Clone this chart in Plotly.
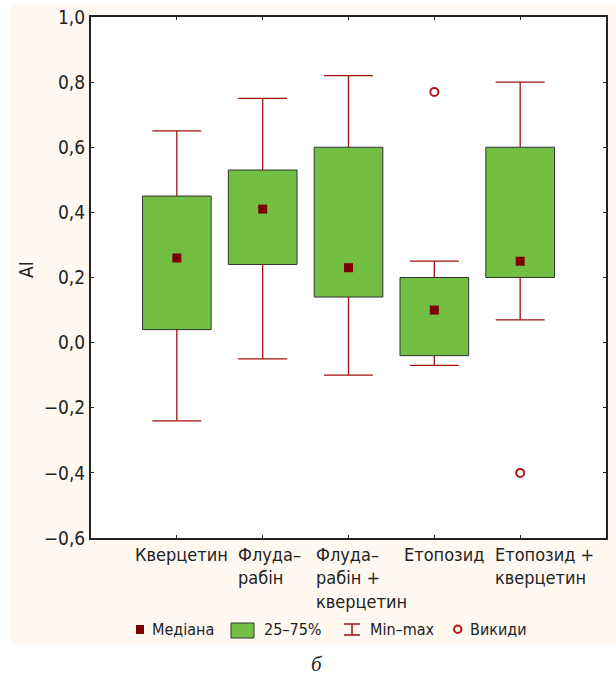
import plotly.graph_objects as go

# %%
categories = ["Кверцетин", "Флуда–<br>рабін", "Флуда–<br>рабін +<br>кверцетин",
              "Етопозид", "Етопозид +<br>кверцетин"]
q1 = [0.04, 0.24, 0.14, -0.04, 0.20]
q3 = [0.45, 0.53, 0.60, 0.20, 0.60]
median = [0.26, 0.41, 0.23, 0.10, 0.25]
vmin = [-0.24, -0.05, -0.10, -0.07, 0.07]
vmax = [0.65, 0.75, 0.82, 0.25, 0.80]
outlier_x = [4, 5]
outlier_y = [0.77, -0.40]
ytick_vals = [-0.6, -0.4, -0.2, 0.0, 0.2, 0.4, 0.6, 0.8, 1.0]

FONT = "Liberation Sans Narrow, DejaVu Sans Condensed, Arial Narrow, sans-serif"
CREAM = "#FFF9F2"
GREEN = "#72BF44"
DARKRED = "#7A0000"
WHISK = "#A01010"

# plot area in pixels (for legend decoration placement)
L, R, T, B = 91, 606, 17, 538
def px(x): return (x - L) / (R - L)
def py(y): return (B - y) / (B - T)

x = list(range(1, len(categories) + 1))
cap = 0.285
label_shift = [-44, -27, -35, -32, -27]  # left edge of label vs category centre, px

# whiskers: from box edges to min/max, with caps
wx, wy = [], []
for i, xi in enumerate(x):
    wx += [xi, xi, None, xi - cap, xi + cap, None, xi, xi, None, xi - cap, xi + cap, None]
    wy += [q3[i], vmax[i], None, vmax[i], vmax[i], None, q1[i], vmin[i], None, vmin[i], vmin[i], None]

fig = go.Figure()
fig.add_trace(go.Scatter(x=wx, y=wy, mode="lines", line=dict(color=WHISK, width=1.3),
                         hoverinfo="skip"))
fig.add_trace(go.Bar(x=x, base=q1, y=[b - a for a, b in zip(q1, q3)], width=0.8,
                     marker=dict(color=GREEN, line=dict(color="#333333", width=1))))
fig.add_trace(go.Scatter(x=x, y=median, mode="markers",
                         marker=dict(symbol="square", size=9, color=DARKRED)))
fig.add_trace(go.Scatter(x=outlier_x, y=outlier_y, mode="markers",
                         marker=dict(symbol="circle-open", size=8, color="#B01818",
                                     line=dict(width=2, color="#B01818"))))

fig.update_layout(
    template="none",
    width=616, height=675, showlegend=False,
    margin=dict(l=L, r=616 - R, t=T, b=675 - B, pad=0),
    paper_bgcolor=CREAM, plot_bgcolor="white",
    separators=",.",
    font=dict(family=FONT, size=19, color="#222222"),
)
fig.update_xaxes(range=[0, 6], tickvals=x, ticktext=[""] * len(x), ticks="inside",
                 ticklen=3, tickcolor="#222", showgrid=False, zeroline=False, automargin=False,
                 showline=True, linecolor="#222", linewidth=2, mirror="allticks")
fig.update_yaxes(range=[-0.6, 1.0], tickvals=ytick_vals, tickformat=".1f", ticks="inside",
                 ticklen=3, tickcolor="#222", showgrid=False, zeroline=False, automargin=False,
                 showline=True, linecolor="#222", linewidth=2, mirror="allticks")

# category labels (left-aligned lines)
for xi, lab, sh in zip(x, categories, label_shift):
    fig.add_annotation(x=xi, y=0, xref="x", yref="paper", text=lab, showarrow=False,
                       xanchor="left", yanchor="top", align="left", yshift=-4, xshift=sh,
                       font=dict(size=18))

# y axis title
fig.add_annotation(x=px(26), y=py(270), xref="paper", yref="paper", text="AI",
                   textangle=-90, showarrow=False, xanchor="center", yanchor="middle",
                   font=dict(size=19))

# white page strips around the cream panel
fig.add_shape(type="rect", xref="paper", yref="paper", x0=px(0), x1=px(616), y0=py(675),
              y1=py(645), fillcolor="white", line_width=0, layer="below")
fig.add_shape(type="rect", xref="paper", yref="paper", x0=px(0), x1=px(11), y0=py(675),
              y1=py(0), fillcolor="white", line_width=0, layer="below")
fig.add_shape(type="rect", xref="paper", yref="paper", x0=px(0), x1=px(616), y0=py(4),
              y1=py(0), fillcolor="white", line_width=0, layer="below")

# legend
fig.add_shape(type="rect", xref="paper", yref="paper", x0=px(136), x1=px(144), y0=py(634),
              y1=py(625), fillcolor=DARKRED, line_width=0)
fig.add_shape(type="rect", xref="paper", yref="paper", x0=px(231), x1=px(254), y0=py(638),
              y1=py(623), fillcolor=GREEN, line=dict(color="#333", width=1))
for (xa, ya, xb, yb) in [(344, 624, 360, 624), (344, 635, 360, 635), (352, 624, 352, 635)]:
    fig.add_shape(type="line", xref="paper", yref="paper", x0=px(xa), y0=py(ya), x1=px(xb),
                  y1=py(yb), line=dict(color=WHISK, width=1.5))
fig.add_shape(type="circle", xref="paper", yref="paper", x0=px(454), x1=px(461.5),
              y0=py(633), y1=py(625.5), line=dict(color="#B01818", width=2))
for xl, txt in [(150, "Медіана"), (262, "25–75%"), (368, "Min–max"), (468, "Викиди")]:
    fig.add_annotation(x=px(xl), y=py(629), xref="paper", yref="paper", text=txt,
                       showarrow=False, xanchor="left", yanchor="middle", font=dict(size=16))

# caption
fig.add_annotation(x=px(317), y=py(664), xref="paper", yref="paper", text="<i>б</i>",
                   showarrow=False, xanchor="center", yanchor="middle",
                   font=dict(family="Liberation Serif, DejaVu Serif, serif", size=21))

# page body has a default 8px margin; drop it so the figure sits at the window corner
fig.write_html("out.html", config={"displayModeBar": False},
               post_script="document.body.style.margin='0px';")
